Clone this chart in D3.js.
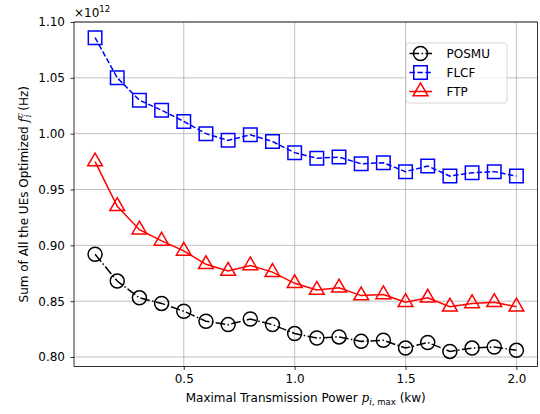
<html>
<meta charset="utf-8" />
<head>
<title>Sum of optimized f vs max power</title>
<script src="https://cdn.jsdelivr.net/npm/d3@7/dist/d3.min.js"></script>
<style>
body { margin: 0; background: #fff; }
text { font-family: "DejaVu Sans", sans-serif; fill: #000; }
</style>
</head>
<body>
<svg id="chart" width="540" height="414"></svg>
<script>
// x values (kw)
const power = [0.1, 0.2, 0.3, 0.4, 0.5, 0.6, 0.7, 0.8, 0.9, 1.0,
	1.1, 1.2, 1.3, 1.4, 1.5, 1.6, 1.7, 1.8, 1.9, 2.0];
// values in units of 1e12 Hz
const posmu = [0.892, 0.868, 0.853, 0.848, 0.841, 0.832, 0.829, 0.834, 0.829, 0.821,
	0.817, 0.818, 0.814, 0.815, 0.808, 0.813, 0.805, 0.808, 0.809, 0.806];
const flcf = [1.086, 1.050, 1.030, 1.021, 1.011, 1.000, 0.994, 0.999, 0.993, 0.983,
	0.978, 0.979, 0.973, 0.974, 0.966, 0.971, 0.962, 0.965, 0.966, 0.962];
const ftp = [0.975, 0.935, 0.914, 0.904, 0.895, 0.883, 0.877, 0.882, 0.876, 0.866,
	0.860, 0.862, 0.855, 0.856, 0.849, 0.853, 0.845, 0.848, 0.849, 0.845];
const seriesNames = ['POSMU', 'FLCF', 'FTP'];
const xTicks = [0.5, 1.0, 1.5, 2.0];
const yTicks = [0.80, 0.85, 0.90, 0.95, 1.00, 1.05, 1.10];

const svg = d3.select('#chart');
const axLeft = 74, axRight = 537.5, axTop = 22, axBottom = 366.5;
const fs = 12;

let xScale = d3.scaleLinear().domain([0.005, 2.095]).range([axLeft, axRight]);
let yScale = d3.scaleLinear().domain([0.7915, 1.10]).range([axBottom, axTop]);

// grid
let grid = svg.append('g').attr('stroke', '#b0b0b0').attr('stroke-width', 0.8);
grid.selectAll('.vx').data(xTicks).enter().append('line')
	.attr('x1', d => xScale(d)).attr('x2', d => xScale(d))
	.attr('y1', axTop).attr('y2', axBottom);
grid.selectAll('.hy').data(yTicks).enter().append('line')
	.attr('x1', axLeft).attr('x2', axRight)
	.attr('y1', d => yScale(d)).attr('y2', d => yScale(d));

// axes
let xAxis = d3.axisBottom(xScale).tickValues(xTicks).tickFormat(d3.format('.1f')).tickSizeOuter(0).tickSize(3.5).tickPadding(4);
let yAxis = d3.axisLeft(yScale).tickValues(yTicks).tickFormat(d3.format('.2f')).tickSizeOuter(0).tickSize(3.5).tickPadding(5.5);

let gx = svg.append('g').attr('transform', 'translate(0,' + axBottom + ')').call(xAxis);
let gy = svg.append('g').attr('transform', 'translate(' + axLeft + ',0)').call(yAxis);
[gx, gy].forEach(g => {
	g.select('.domain').remove();
	g.selectAll('line').attr('stroke', '#000').attr('stroke-width', 0.8);
	g.selectAll('text').attr('font-size', fs).attr('font-family', '"DejaVu Sans", sans-serif').attr('fill', '#000');
});

// series
const series = [
	{ name: seriesNames[0], values: posmu, color: '#000000', dash: '9.6,2.4,1.5,2.4', marker: 'circle' },
	{ name: seriesNames[1], values: flcf, color: '#0000ff', dash: '5.5,2.4', marker: 'square' },
	{ name: seriesNames[2], values: ftp, color: '#ff0000', dash: null, marker: 'triangle' }
];

const markerSym = {
	circle: d3.symbol().type(d3.symbolCircle).size(Math.PI * 7 * 7),
	square: d3.symbol().type(d3.symbolSquare).size(13.5 * 13.5),
	triangle: d3.symbol().type(d3.symbolTriangle).size(95)
};

let plot = svg.append('g');
series.forEach(s => {
	let line = d3.line()
		.x((d, i) => xScale(power[i]))
		.y(d => yScale(d));
	plot.append('path')
		.attr('d', line(s.values))
		.attr('fill', 'none')
		.attr('stroke', s.color)
		.attr('stroke-width', 1.5)
		.attr('stroke-dasharray', s.dash);
	plot.selectAll('.m-' + s.marker).data(s.values).enter().append('path')
		.attr('d', markerSym[s.marker]())
		.attr('transform', (d, i) => 'translate(' + xScale(power[i]) + ',' + yScale(d) + ')')
		.attr('fill', 'none')
		.attr('stroke', s.color)
		.attr('stroke-width', 1.5);
});

// frame
svg.append('rect')
	.attr('x', axLeft).attr('y', axTop)
	.attr('width', axRight - axLeft).attr('height', axBottom - axTop)
	.attr('fill', 'none').attr('stroke', '#000').attr('stroke-width', 0.8);

// exponent
let expo = svg.append('text').attr('x', 74).attr('y', 17).attr('font-size', fs);
expo.append('tspan').text('\u00d710');
expo.append('tspan').attr('font-size', 8.5).attr('dy', -5).text('12');

// legend
let lg = svg.append('g').attr('transform', 'translate(406,43)');
lg.append('rect').attr('width', 101).attr('height', 60).attr('rx', 3)
	.attr('fill', '#fff').attr('fill-opacity', 0.8)
	.attr('stroke', '#cccccc').attr('stroke-width', 0.8);
series.forEach((s, i) => {
	let row = lg.append('g').attr('transform', 'translate(0,' + (10.5 + i * 19) + ')');
	row.append('line').attr('x1', 3.5).attr('x2', 26).attr('y1', 0).attr('y2', 0)
		.attr('stroke', s.color).attr('stroke-width', 1.5)
		.attr('stroke-dasharray', s.dash);
	row.append('path').attr('d', markerSym[s.marker]())
		.attr('transform', 'translate(14.5,0)')
		.attr('fill', 'none').attr('stroke', s.color).attr('stroke-width', 1.5);
	row.append('text').attr('x', 40.5).attr('y', 4.5).attr('font-size', fs).text(s.name);
});

// x label
let xl = svg.append('text').attr('x', (axLeft + axRight) / 2).attr('y', 402)
	.attr('text-anchor', 'middle').attr('font-size', fs);
xl.append('tspan').text('Maximal Transmission Power ');
xl.append('tspan').attr('font-family', '"DejaVu Serif", serif').attr('font-style', 'italic').text('p');
xl.append('tspan').attr('font-size', 8.5).attr('dy', 2.5).attr('font-style', 'italic')
	.attr('font-family', '"DejaVu Serif", serif').text('i');
xl.append('tspan').attr('font-size', 8.5).text(', max');
xl.append('tspan').attr('dy', -2.5).text(' (kw)');

// y label
let yl = svg.append('text')
	.attr('transform', 'translate(27.5,' + ((axTop + axBottom) / 2) + ') rotate(-90)')
	.attr('text-anchor', 'middle').attr('font-size', fs);
yl.append('tspan').text('Sum of All the UEs Optimized ');
yl.append('tspan').attr('font-family', '"DejaVu Serif", serif').attr('font-style', 'italic').text('f');
yl.append('tspan').attr('font-size', 8.5).attr('dy', -5).attr('font-style', 'italic')
	.attr('font-family', '"DejaVu Serif", serif').text('c');
yl.append('tspan').attr('font-size', 8.5).attr('dx', -4).attr('dy', 8).attr('font-style', 'italic')
	.attr('font-family', '"DejaVu Serif", serif').text('i');
yl.append('tspan').attr('dy', -3).text(' (Hz)');
</script>
</body>
</html>
